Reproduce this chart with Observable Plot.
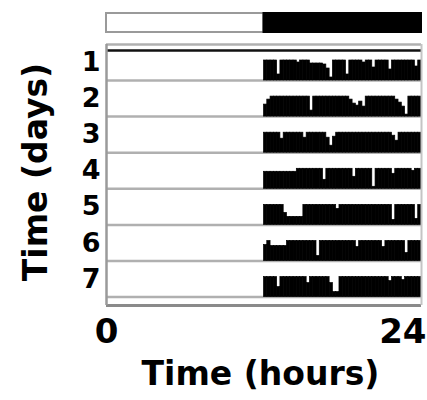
<!DOCTYPE html>
<html><head><meta charset="utf-8">
<script src="https://cdn.jsdelivr.net/npm/d3@7"></script>
<script src="https://cdn.jsdelivr.net/npm/@observablehq/plot@0.6"></script>
<style>body{margin:0;background:#fff} #chart svg{display:block}</style>
</head><body><div id="chart"></div>
<script>
// ---- data ----
const days = [1, 2, 3, 4, 5, 6, 7];
const hourTicks = [0, 24];
const lightDark = [
  {start: 0, end: 12, phase: "light"},
  {start: 12, end: 24, phase: "dark"}
];
const binStart = 12;     // hours
const binWidth = 0.25;   // hours per activity bin
// relative activity per 15-min bin, 12h -> 24h
const day1 = [1,1,1,1,0.3,1,1,1,1,1, 0.9,1,1,1,0.85,0.85,0.85,0.85,0.8,0.6, 0.15,1,1,1,1,0.3,1,1,1,1, 0.9,1,1,0.65,1,1,1,1,0.55,1, 1,1,1,1,1,1,0.7,1];
const day2 = [0.6,0.85,1,1,1,1,1,1,1,1, 1,1,1,1,0.3,1,1,1,1,1, 1,1,1,1,1,1,0.85,0.65,0.55,0.75, 0.5,1,1,1,1,1,1,1,1,1, 0.85,0.7,0.5,0.1,1,1,1,1];
const day3 = [1,1,1,1,1,0.7,1,1,1,1, 1,1,0.75,1,1,1,1,1,1,0.75, 0.35,0.8,1,1,1,1,1,1,1,1, 1,1,1,1,1,1,1,1,1,0.85, 0.6,1,1,1,1,1,1,1];
const day4 = [0.85,0.85,0.85,0.85,0.85,0.85,0.85,0.85,0.85,0.85, 1,1,1,1,1,1,1,1,0.45,1, 1,1,1,1,1,1,1,0.6,1,1, 1,1,1,0.1,1,1,1,1,1,0.75, 1,1,1,1,1,0.9,1,1];
const day5 = [1,1,1,1,1,1,0.6,0.4,0.4,0.4, 0.4,0.4,1,1,1,1,1,1,1,1, 1,1,0.8,1,1,1,1,1,1,1, 1,1,1,1,1,1,1,1,1,0.25, 1,1,1,1,1,1,0.3,1];
const day6 = [0.8,1,0.75,0.75,0.75,0.75,0.75,1,1,1, 1,1,1,1,1,1,0.25,1,1,1, 1,1,1,1,1,1,1,1,0.7,1, 1,1,1,1,1,1,0.7,1,1,1, 1,1,1,0.4,1,1,1,1];
const day7 = [1,1,1,1,0.5,1,1,1,1,1, 1,1,1,0.7,1,1,1,1,1,1, 0.7,0.25,0.25,1,1,1,1,1,1,1, 1,1,1,1,1,1,1,1,0.8,1, 1,1,0.85,1,1,1,1,1];
const activity = [day1, day2, day3, day4, day5, day6, day7];

const bins = activity.flatMap((vals, i) =>
  vals.map((v, k) => ({day: days[i], t: binStart + k * binWidth, v})));

// ---- layout / style ----
const font = "'DejaVu Sans', sans-serif";
const W = 427, ML = 106, MR = 6;
const BAR = 0.554;               // full activity height, in day units
const yDomain = [0.169, 7.233];

const ld = Plot.plot({
  width: W, height: 40, marginLeft: ML, marginRight: MR, marginTop: 13, marginBottom: 8,
  x: {domain: [0, 24], axis: null},
  color: {type: "identity"},
  marks: [
    Plot.rect(lightDark, {
      x1: "start", x2: "end",
      fill: d => d.phase === "dark" ? "#000" : "#fff",
      stroke: d => d.phase === "dark" ? "#000" : "#9a9a9a",
      strokeWidth: 2
    })
  ]
});

const txt = {fill: "#000", fontWeight: "bold", fontFamily: font, lineAnchor: "middle"};

const main = Plot.plot({
  width: W, height: 360, marginLeft: ML, marginRight: MR, marginTop: 10, marginBottom: 95,
  x: {domain: [0, 24], axis: null},
  y: {domain: yDomain, reverse: true, axis: null},
  style: {fontFamily: font, background: "transparent", overflow: "visible"},
  marks: [
    Plot.ruleY([0, ...days], {stroke: "#b0b0b0", strokeWidth: 2.5}),
    Plot.rect(bins, {
      x1: "t", x2: d => d.t + binWidth,
      y1: "day", y2: d => d.day - d.v * BAR,
      fill: "#000", stroke: "#000", strokeWidth: 0.7
    }),
    Plot.ruleY([yDomain[0]], {stroke: "#111", strokeWidth: 2.5}),
    Plot.ruleY([yDomain[1]], {stroke: "#8a8a8a", strokeWidth: 3}),
    Plot.ruleX([0], {y1: 0, y2: yDomain[1], stroke: "#9a9a9a", strokeWidth: 2.5}),
    Plot.ruleX([24], {y1: 0, y2: yDomain[1], stroke: "#c4c4c4", strokeWidth: 2}),
    Plot.text(days, {...txt, x: 0, y: d => d - 0.5, text: d => String(d), textAnchor: "end", dx: -6, fontSize: 27}),
    Plot.text([hourTicks[0]], {...txt, x: d => d, frameAnchor: "bottom", text: d => String(d), textAnchor: "middle", dy: 26.4, fontSize: 34}),
    Plot.text([hourTicks[1]], {...txt, x: d => d, frameAnchor: "bottom", text: d => String(d), textAnchor: "end", dx: 5, dy: 26.4, fontSize: 34}),
    Plot.text(["Time (hours)"], {...txt, frameAnchor: "bottom", text: d => d, textAnchor: "middle", dx: -3.5, dy: 69.4, fontSize: 33}),
    Plot.text(["Time (days)"], {...txt, frameAnchor: "left", text: d => d, textAnchor: "middle", rotate: -90, dx: -69.6, dy: -6, fontSize: 33})
  ]
});

const el = document.getElementById("chart");
el.append(ld, main);
</script>
</body></html>
